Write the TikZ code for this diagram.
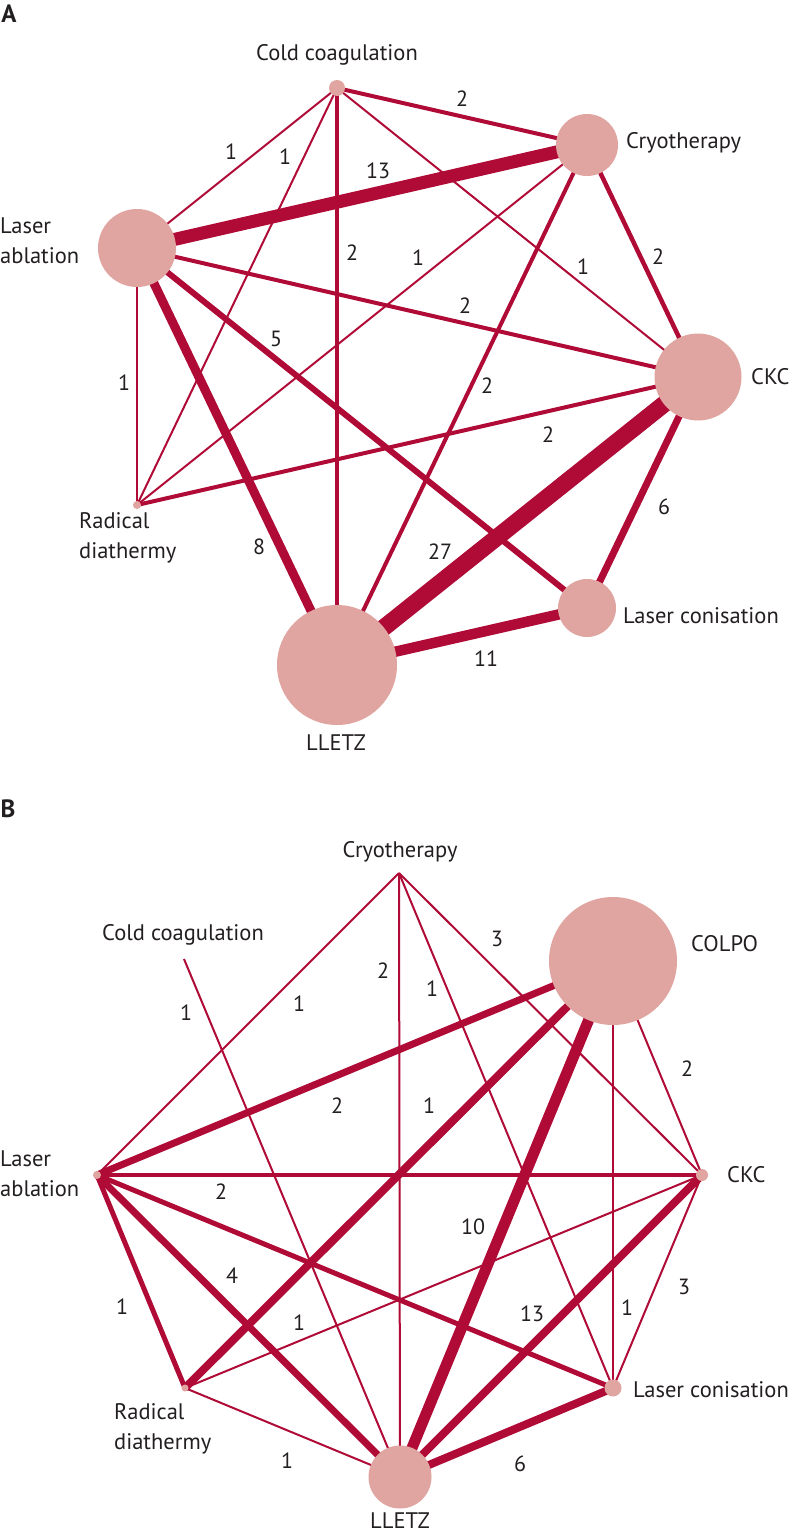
\documentclass[tikz,border=0pt]{standalone}
\usepackage{fontspec}
\setmainfont{PT Sans}
\definecolor{edgecol}{HTML}{B00A36}
\definecolor{nodecol}{HTML}{E0A5A0}
\definecolor{txtcol}{HTML}{231F20}
\begin{document}
\begin{tikzpicture}[x=1pt,y=-1pt,
  tnode/.style={circle,fill=nodecol,draw=none,inner sep=0pt,minimum size=#1},
  edge/.style={draw=edgecol,line width=#1},
  lab/.style={text=txtcol,font=\fontsize{22.5}{30}\selectfont,inner sep=0pt,align=left},
  num/.style={text=txtcol,font=\fontsize{22}{26}\selectfont,inner sep=0pt},
  panel/.style={text=txtcol,font=\fontsize{25}{30}\selectfont\bfseries,inner sep=0pt}]
\useasboundingbox (0,0) rectangle (788,1537);
\fill[white] (0,0) rectangle (788,1537);

% ---------------- Panel A ----------------
\node[panel] (pA) at (9,14) {A};
\coordinate (aCC) at (337,88);
\coordinate (aCR) at (587,145);
\coordinate (aLA) at (137,248);
\coordinate (aCK) at (698,377);
\coordinate (aRD) at (137,505);
\coordinate (aLL) at (337,665);
\coordinate (aLC) at (587,608);

\draw[edge=2pt] (aCC) -- (aLA);
\draw[edge=2pt] (aCC) -- (aRD);
\draw[edge=4pt] (aCC) -- (aLL);
\draw[edge=2pt] (aCC) -- (aCK);
\draw[edge=4pt] (aCC) -- (aCR);
\draw[edge=13pt] (aLA) -- (aCR);
\draw[edge=2pt] (aCR) -- (aRD);
\draw[edge=4pt] (aCR) -- (aLL);
\draw[edge=4.5pt] (aCR) -- (aCK);
\draw[edge=4pt] (aLA) -- (aCK);
\draw[edge=6pt] (aLA) -- (aLC);
\draw[edge=2pt] (aLA) -- (aRD);
\draw[edge=9pt] (aLA) -- (aLL);
\draw[edge=4pt] (aRD) -- (aCK);
\draw[edge=17pt] (aLL) -- (aCK);
\draw[edge=7pt] (aCK) -- (aLC);
\draw[edge=10.5pt] (aLL) -- (aLC);

\node[tnode=16pt] (nCC) at (aCC) {};
\node[tnode=62pt] (nCR) at (aCR) {};
\node[tnode=78pt] (nLA) at (aLA) {};
\node[tnode=87pt] (nCK) at (aCK) {};
\node[tnode=8pt] (nRD) at (aRD) {};
\node[tnode=120pt] (nLL) at (aLL) {};
\node[tnode=58pt] (nLC) at (aLC) {};

\node[lab] (tCC) at (337,55) {Cold coagulation};
\node[lab,anchor=west] (tCR) at (626,143) {Cryotherapy};
\node[lab,anchor=west] (tLA) at (0,241) {Laser\\ablation};
\node[lab,anchor=west] (tCK) at (751,377) {CKC};
\node[lab,anchor=west] (tRD) at (79,538) {Radical\\diathermy};
\node[lab] (tLL) at (336,743) {LLETZ};
\node[lab,anchor=west] (tLC) at (623,616) {Laser conisation};

\node[num] (a1) at (462,99) {2};
\node[num] (a2) at (231,152) {1};
\node[num] (a3) at (285,157) {1};
\node[num] (a4) at (378,171) {13};
\node[num] (a5) at (352,253) {2};
\node[num] (a6) at (418,258) {1};
\node[num] (a7) at (583,267) {1};
\node[num] (a8) at (658,257) {2};
\node[num] (a9) at (465,306) {2};
\node[num] (a10) at (276,339) {5};
\node[num] (a11) at (124,383) {1};
\node[num] (a12) at (487,386) {2};
\node[num] (a13) at (548,435) {2};
\node[num] (a14) at (259,547) {8};
\node[num] (a15) at (440,552) {27};
\node[num] (a16) at (664,507) {6};
\node[num] (a17) at (486,659) {11};

% ---------------- Panel B ----------------
\node[panel] (pB) at (8,809) {B};
\coordinate (bCR) at (399,873);
\coordinate (bCC) at (184,959);
\coordinate (bCO) at (613,961);
\coordinate (bLA) at (97,1175);
\coordinate (bCK) at (702,1175);
\coordinate (bRD) at (185,1388);
\coordinate (bLC) at (613,1388);
\coordinate (bLL) at (400,1477);

\draw[edge=2pt] (bCR) -- (bLA);
\draw[edge=2pt] (bCR) -- (bLL);
\draw[edge=2pt] (bCR) -- (bLC);
\draw[edge=2pt] (bCR) -- (bCK);
\draw[edge=2pt] (bCC) -- (bLL);
\draw[edge=7pt] (bCO) -- (bLA);
\draw[edge=8pt] (bCO) -- (bRD);
\draw[edge=11pt] (bCO) -- (bLL);
\draw[edge=2pt] (bCO) -- (bLC);
\draw[edge=2pt] (bCO) -- (bCK);
\draw[edge=4pt] (bLA) -- (bCK);
\draw[edge=5pt] (bLA) -- (bRD);
\draw[edge=7pt] (bLA) -- (bLL);
\draw[edge=5pt] (bLA) -- (bLC);
\draw[edge=2pt] (bRD) -- (bCK);
\draw[edge=2pt] (bRD) -- (bLL);
\draw[edge=8pt] (bCK) -- (bLL);
\draw[edge=2pt] (bCK) -- (bLC);
\draw[edge=8pt] (bLL) -- (bLC);

\node[tnode=128pt] (mCO) at (bCO) {};
\node[tnode=8pt] (mLA) at (bLA) {};
\node[tnode=12pt] (mCK) at (bCK) {};
\node[tnode=7pt] (mRD) at (bRD) {};
\node[tnode=17pt] (mLC) at (bLC) {};
\node[tnode=63pt] (mLL) at (bLL) {};

\node[lab] (uCR) at (400,852) {Cryotherapy};
\node[lab,anchor=west] (uCC) at (102,935) {Cold coagulation};
\node[lab,anchor=west] (uCO) at (691,944) {COLPO};
\node[lab,anchor=west] (uLA) at (0,1174) {Laser\\ablation};
\node[lab,anchor=west] (uCK) at (727,1175) {CKC};
\node[lab,anchor=west] (uRD) at (114,1429) {Radical\\diathermy};
\node[lab,anchor=west] (uLC) at (633,1390) {Laser conisation};
\node[lab,anchor=south] (uLL) at (400,1529) {LLETZ};

\node[num] (b1) at (186,1013) {1};
\node[num] (b2) at (299,1004) {1};
\node[num] (b3) at (383,971) {2};
\node[num] (b4) at (432,989) {1};
\node[num] (b5) at (497,939) {3};
\node[num] (b6) at (687,1069) {2};
\node[num] (b7) at (337,1106) {2};
\node[num] (b8) at (429,1106) {1};
\node[num] (b9) at (221,1192) {2};
\node[num] (b10) at (473,1227) {10};
\node[num] (b11) at (232,1276) {4};
\node[num] (b12) at (299,1323) {1};
\node[num] (b13) at (532,1314) {13};
\node[num] (b14) at (627,1308) {1};
\node[num] (b15) at (684,1287) {3};
\node[num] (b16) at (122,1307) {1};
\node[num] (b17) at (287,1461) {1};
\node[num] (b18) at (520,1464) {6};
\end{tikzpicture}
\end{document}
